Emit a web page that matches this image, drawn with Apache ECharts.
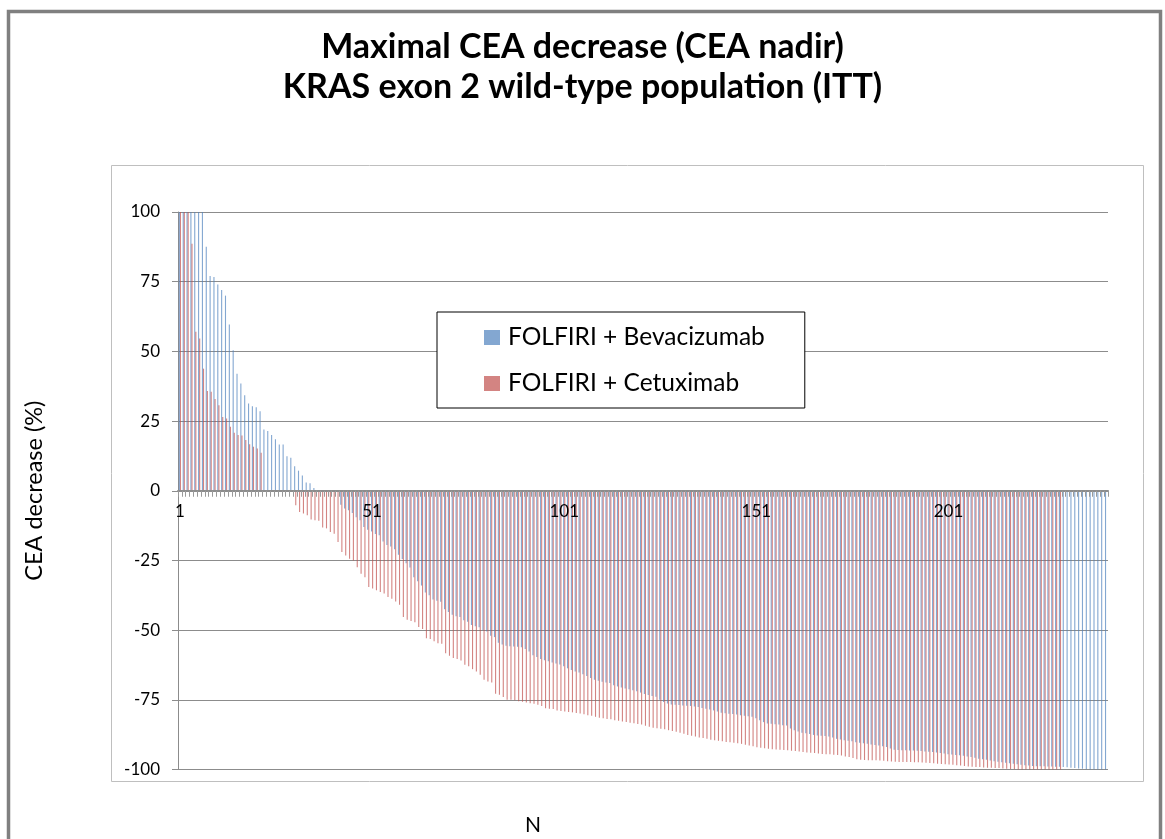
<!DOCTYPE html>
<html>
<head>
<meta charset="utf-8">
<script src="https://cdn.jsdelivr.net/npm/echarts@6/dist/echarts.min.js"></script>
<style>
html,body{margin:0;padding:0;background:#fff;}
#chart{width:1165px;height:839px;}
</style>
</head>
<body>
<div id="chart"></div>
<script>
// ---- data ----
const titleLines = ['Maximal CEA decrease (CEA nadir)', 'KRAS exon 2 wild-type population (ITT)'];
const seriesNames = ['FOLFIRI + Bevacizumab', 'FOLFIRI + Cetuximab'];
const yTicks = [-100, -75, -50, -25, 0, 25, 50, 75, 100];

const bevacizumab = [
  100, 100, 100, 100, 100, 100, 100, 87.5, 77, 76.7,
  74, 72, 70, 59.6, 50.4, 42, 38.5, 34.3, 31.3, 30.3,
  30, 28.5, 22, 21.4, 20, 18.5, 16.6, 16.6, 12.4, 11.8,
  8.8, 7.2, 5.5, 3, 2.7, 1, 0, 0, 0, 0,
  0, 0, -5, -6.4, -7, -8, -9.5, -10.6, -13, -14,
  -14.6, -15.5, -16, -18.2, -19.5, -20, -21, -23, -24.5, -26,
  -27.5, -31, -32.5, -34, -36.5, -37.5, -39, -39.5, -39.8, -42.5,
  -43.5, -44.5, -45, -45.3, -46.5, -47, -48.2, -48.6, -49, -50,
  -50.5, -52, -52.5, -54.5, -55.2, -55.6, -55.8, -55.9, -56, -56.1,
  -56.8, -57.7, -59, -59.6, -60.4, -60.8, -61.2, -61.6, -62, -62.3,
  -63, -63.7, -64.3, -64.8, -65.2, -65.8, -66.5, -67.2, -67.8, -68.2,
  -68.5, -68.8, -69, -69.8, -70.2, -70.6, -70.9, -71.2, -71.6, -71.9,
  -72.4, -72.9, -73.3, -73.6, -73.9, -75, -75.8, -76.3, -76.7, -76.8,
  -76.9, -77, -77.1, -77.2, -77.4, -77.6, -77.9, -78.2, -78.5, -78.8,
  -79.2, -79.6, -79.8, -80, -80.1, -80.3, -80.5, -80.7, -80.9, -81.1,
  -81.6, -82.3, -83, -83.5, -83.6, -83.8, -83.9, -84.1, -84.2, -85.3,
  -85.9, -86.4, -86.8, -87, -87.3, -87.6, -87.8, -87.9, -88, -88.2,
  -88.5, -89, -89.2, -89.5, -89.7, -89.9, -90.2, -90.4, -90.6, -90.8,
  -91, -91.2, -91.4, -91.7, -91.9, -92.5, -92.9, -93, -93.1, -93.1,
  -93.2, -93.2, -93.3, -93.4, -93.5, -93.6, -93.7, -93.9, -94.1, -94.3,
  -94.5, -94.6, -94.8, -94.9, -95.1, -95.3, -95.5, -95.8, -96.1, -96.3,
  -96.5, -96.8, -97, -97.2, -97.4, -97.6, -97.8, -97.9, -98.1, -98.3,
  -98.5, -98.6, -98.7, -98.8, -98.8, -98.8, -98.9, -98.9, -99, -99,
  -99.1, -99.2, -99.4, -99.5, -99.6, -99.7, -99.9, -100, -100, -100,
  -100, -100
];

const cetuximab = [
  100, 100, 100, 88.6, 57, 54.6, 43.8, 35.8, 35.5, 32.9,
  30.7, 26.5, 25.9, 23, 20.8, 20, 19.8, 18.2, 16.7, 15.8,
  15.2, 13.6, 0, 0, 0, 0, 0, 0, 0, 0,
  -5.2, -7.6, -8.2, -8.8, -10.3, -10.6, -10.8, -13.2, -13.5, -14.8,
  -15.4, -18.4, -22, -23.2, -24.4, -25, -27.4, -29.8, -31, -34.5,
  -35.1, -35.7, -36.3, -36.9, -38.1, -38.7, -39.7, -40.9, -45.3, -46.3,
  -46.7, -47.2, -48.9, -49.6, -52.9, -53.2, -54, -54.7, -54.9, -58.3,
  -59.2, -60, -60.4, -60.9, -62.4, -63, -64, -64.8, -66, -67.8,
  -68.4, -68.8, -72.8, -73.2, -74, -75, -75, -75.2, -75.5, -75.7,
  -76, -76.2, -76.4, -76.8, -77.2, -78, -78.2, -78.3, -78.8, -79,
  -79.2, -79.4, -79.5, -79.7, -79.9, -80.2, -80.5, -80.7, -81.1, -81.4,
  -81.6, -81.9, -82, -82.3, -82.5, -82.8, -83, -83.2, -83.4, -83.7,
  -83.9, -84.3, -84.7, -85, -85.2, -85.4, -85.6, -85.9, -86.2, -86.5,
  -86.8, -87.2, -87.6, -87.9, -88.2, -88.5, -88.7, -89, -89.3, -89.5,
  -89.7, -89.9, -90.1, -90.2, -90.4, -90.6, -90.8, -91.1, -91.4, -91.7,
  -92, -92.2, -92.4, -92.6, -92.7, -92.8, -92.9, -93, -93.1, -93.3,
  -93.4, -93.5, -93.7, -93.9, -94, -94.1, -94.3, -94.4, -94.5, -94.5,
  -94.7, -94.8, -95, -95.3, -95.5, -95.9, -96.3, -96.5, -96.6, -96.7,
  -96.7, -96.7, -96.8, -96.9, -97, -97.1, -97.2, -97.3, -97.3, -97.3,
  -97.3, -97.4, -97.4, -97.5, -97.6, -97.7, -97.8, -97.9, -98, -98.1,
  -98.2, -98.3, -98.5, -98.6, -98.7, -98.9, -99, -99.1, -99.1, -99.3,
  -99.4, -99.4, -99.5, -99.5, -99.6, -99.7, -99.8, -99.9, -100, -100,
  -100, -100, -100, -100, -100, -100, -100, -100, -100, -100
];

const nCategories = Math.max(bevacizumab.length, cetuximab.length);
const categories = [];
for (let i = 1; i <= nCategories; i++) categories.push(String(i));

// ---- chart ----
const chart = echarts.init(document.getElementById('chart'), null, {renderer: 'canvas'});
const FONT = 'Lato';
const gridTop = 212, gridBottom = 69.5;
const plotHeight = 839 - gridTop - gridBottom;
const option = {
  backgroundColor: '#ffffff',
  animation: false,
  title: [
    {
      text: titleLines.join('\n'),
      left: 'center',
      top: 22,
      textStyle: {fontFamily: FONT, fontWeight: 'bold', fontSize: 34, lineHeight: 40, color: '#000'}
    },
    {
      text: 'N',
      left: 520,
      top: 810,
      textStyle: {fontFamily: FONT, fontWeight: 'normal', fontSize: 21, color: '#000'}
    }
  ],
  graphic: [
    {type: 'rect', shape: {x: 8.5, y: 11.5, width: 1152, height: 840}, style: {fill: 'none', stroke: '#808080', lineWidth: 3.5}, z: -1},
    {type: 'rect', shape: {x: 111.5, y: 165.5, width: 1032, height: 616}, style: {fill: 'none', stroke: '#bfbfbf', lineWidth: 1}, z: -1}
  ],
  legend: {
    data: seriesNames,
    orient: 'vertical',
    left: 437,
    top: 312,
    padding: [13, 40, 12, 47],
    itemGap: 21,
    itemWidth: 16,
    itemHeight: 15,
    icon: 'rect',
    borderColor: '#000',
    borderWidth: 1,
    backgroundColor: '#fff',
    textStyle: {fontFamily: FONT, fontSize: 24.5, color: '#000', lineHeight: 23, padding: [0, 0, 0, 3]}
  },
  grid: {left: 178, right: 57, top: gridTop, bottom: gridBottom, containLabel: false},
  xAxis: {
    type: 'category',
    data: categories,
    z: 5,
    offset: -plotHeight / 2,
    axisLine: {onZero: false, lineStyle: {color: '#8c8c8c', width: 2}},
    axisTick: {show: true, interval: 0, length: 6, lineStyle: {color: '#9a9a9a', width: 1}},
    axisLabel: {interval: 49, fontFamily: FONT, fontSize: 17, color: '#000', margin: 12},
    splitLine: {show: false}
  },
  yAxis: {
    type: 'value',
    min: -100,
    max: 100,
    interval: 25,
    name: 'CEA decrease (%)',
    nameLocation: 'middle',
    nameRotate: 90,
    nameGap: 132,
    nameTextStyle: {fontFamily: FONT, fontSize: 23.5, color: '#000'},
    axisLine: {show: true, lineStyle: {color: '#8c8c8c', width: 1}},
    axisTick: {show: true, length: 6, lineStyle: {color: '#8c8c8c'}},
    axisLabel: {fontFamily: FONT, fontSize: 17, color: '#000', margin: 18,
      formatter: function (v) { return yTicks.indexOf(v) >= 0 ? String(v) : ''; }},
    splitLine: {show: true, lineStyle: {color: '#8c8c8c', width: 1}}
  },
  series: [
    {
      name: seriesNames[0],
      type: 'bar',
      data: bevacizumab,
      barWidth: 1.1,
      barGap: '0%',
      itemStyle: {color: '#4F81BD', opacity: 0.7}
    },
    {
      name: seriesNames[1],
      type: 'bar',
      data: cetuximab,
      barWidth: 1.1,
      barGap: '0%',
      itemStyle: {color: '#C0504D', opacity: 0.7}
    }
  ]
};
chart.setOption(option);
</script>
</body>
</html>
